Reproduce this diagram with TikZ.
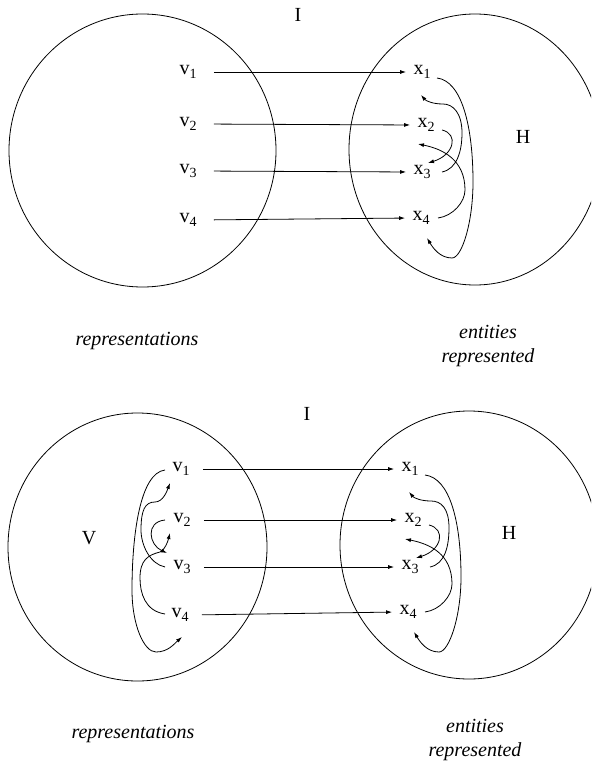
\documentclass[tikz,border=0pt]{standalone}
\usepackage{fontspec}
\setmainfont{Liberation Serif}
\usetikzlibrary{arrows.meta}
\newcommand{\sub}[1]{\raisebox{-0.45ex}{\fontsize{14}{14}\selectfont #1}}
\tikzset{lbl/.style = {inner sep = 2, anchor = mid},
  link/.style = {-{Latex[length=6pt, width=4pt]}, shorten >= 5},
  curl/.style = {-{Latex[length=6pt, width=4pt]}},
  gloss/.style = {font = \fontsize{20}{24}\selectfont\itshape, align = center}}

\begin{document}
\begin{tikzpicture}[x = 1pt, y = -1pt, line width = 0.8pt, font = \fontsize{20}{24}\selectfont]
    \useasboundingbox (0, 0) rectangle (591, 767);
    \clip (0, 0) rectangle (591, 767);

    % first mapping
    \draw (142.5, 150.5) ellipse (133.5 and 136.5);
    \draw (475, 149.5) ellipse (126 and 135.5);
    \node (a-i) at (298, 15) {I};
    \node (a-h) at (523, 137) {H};
    \foreach \n/\x/\y in {1/188/72, 2/188/124, 3/188/171, 4/188/220}
      \node [lbl] (av\n) at (\x, \y) {v\sub{\n}};
    \foreach \n/\x/\y in {1/422/72, 2/426/125, 3/422/172, 4/421/218}
      \node [lbl] (ax\n) at (\x, \y) {x\sub{\n}};
    \foreach \n in {1, ..., 4}
      \draw [link, shorten <= 15] (av\n.mid east) -- (ax\n.mid west);
    \node [gloss] (a-rep) at (137, 341) {representations};
    \node [gloss] (a-ent) at (488, 346) {entities\\represented};

    % second mapping
    \draw (137.5, 547) ellipse (129.5 and 134);
    \draw (469, 545) ellipse (129 and 134);
    \node (b-i) at (307, 414) {I};
    \node (b-v) at (89, 538) {V};
    \node (b-h) at (509, 533) {H};
    \foreach \n/\x/\y in {1/181/469, 2/182/520, 3/182/567, 4/180/615}
      \node [lbl] (bv\n) at (\x, \y) {v\sub{\n}};
    \foreach \n/\x/\y in {1/410/469, 2/413/520, 3/410/567, 4/408/612}
      \node [lbl] (bx\n) at (\x, \y) {x\sub{\n}};
    \foreach \n in {1, ..., 4}
      \draw [link, shorten <= 11] (bv\n.mid east) -- (bx\n.mid west);
    \node [gloss] (b-rep) at (133, 734) {representations};
    \node [gloss] (b-ent) at (475, 740) {entities\\represented};

    % loops on the right, both mappings
    \foreach \p in {a, b} {
      \draw [curl] ([shift={(15, 6)}]\p x1.mid) .. controls +(25, 3) and +(0, -55) .. ([shift={(51, 10)}]\p x3.mid)
        .. controls +(0, 40) and +(10, 0) .. ([shift={(31, 40)}]\p x4.mid)
        .. controls +(-12, 0) and +(6, 10) .. ([shift={(6, 20)}]\p x4.mid);
      \draw [curl] ([shift={(20, 0)}]\p x3.mid) .. controls +(15, -3) and +(0, 18) .. ([shift={(36, 8)}]\p x2.mid)
        .. controls +(0, -20) and +(10, 0) .. ([shift={(21, 32)}]\p x1.mid)
        .. controls +(-10, 0) and +(5, 6) .. ([shift={(-1, 23)}]\p x1.mid);
      \draw [curl] ([shift={(16, 5)}]\p x2.mid) .. controls +(17, 4) and +(26, -8) .. ([shift={(6, -9)}]\p x3.mid);
      \draw [curl] ([shift={(17, 0)}]\p x4.mid) .. controls +(15, -2) and +(0, 12) .. ([shift={(44, -28)}]\p x4.mid)
        .. controls +(0, -30) and +(25, 5) .. ([shift={(-8, 19)}]\p x2.mid);
    }

    % loops on the left, second mapping only
    \draw [curl] ([shift={(-16, 1)}]bv1.mid) .. controls +(-25, 3) and +(0, -55) .. ([shift={(-50, 23)}]bv3.mid)
      .. controls +(0, 35) and +(-12, 0) .. ([shift={(-24, 37)}]bv4.mid)
      .. controls +(12, 0) and +(-8, 7) .. ([shift={(2, 22)}]bv4.mid);
    \draw [curl] ([shift={(-17, 0)}]bv3.mid) .. controls +(-15, -3) and +(0, 15) .. ([shift={(-41, -37)}]bv3.mid)
      .. controls +(0, -20) and +(-10, 0) .. ([shift={(-26, 33)}]bv1.mid)
      .. controls +(8, 0) and +(-3, 8) .. ([shift={(-11, 14)}]bv1.mid);
    \draw [curl] ([shift={(-17, 0)}]bv2.mid) .. controls +(-20, 2) and +(-18, -8) .. ([shift={(-15, -14)}]bv3.mid);
    \draw [curl] ([shift={(-15, -1)}]bv4.mid) .. controls +(-20, -3) and +(0, 15) .. ([shift={(-40, -37)}]bv4.mid)
      .. controls +(0, -18) and +(-12, 3) .. ([shift={(-22, 32)}]bv2.mid)
      .. controls +(5, -2) and +(-2, 8) .. ([shift={(-12, 13)}]bv2.mid);
  \end{tikzpicture}
\end{document}
